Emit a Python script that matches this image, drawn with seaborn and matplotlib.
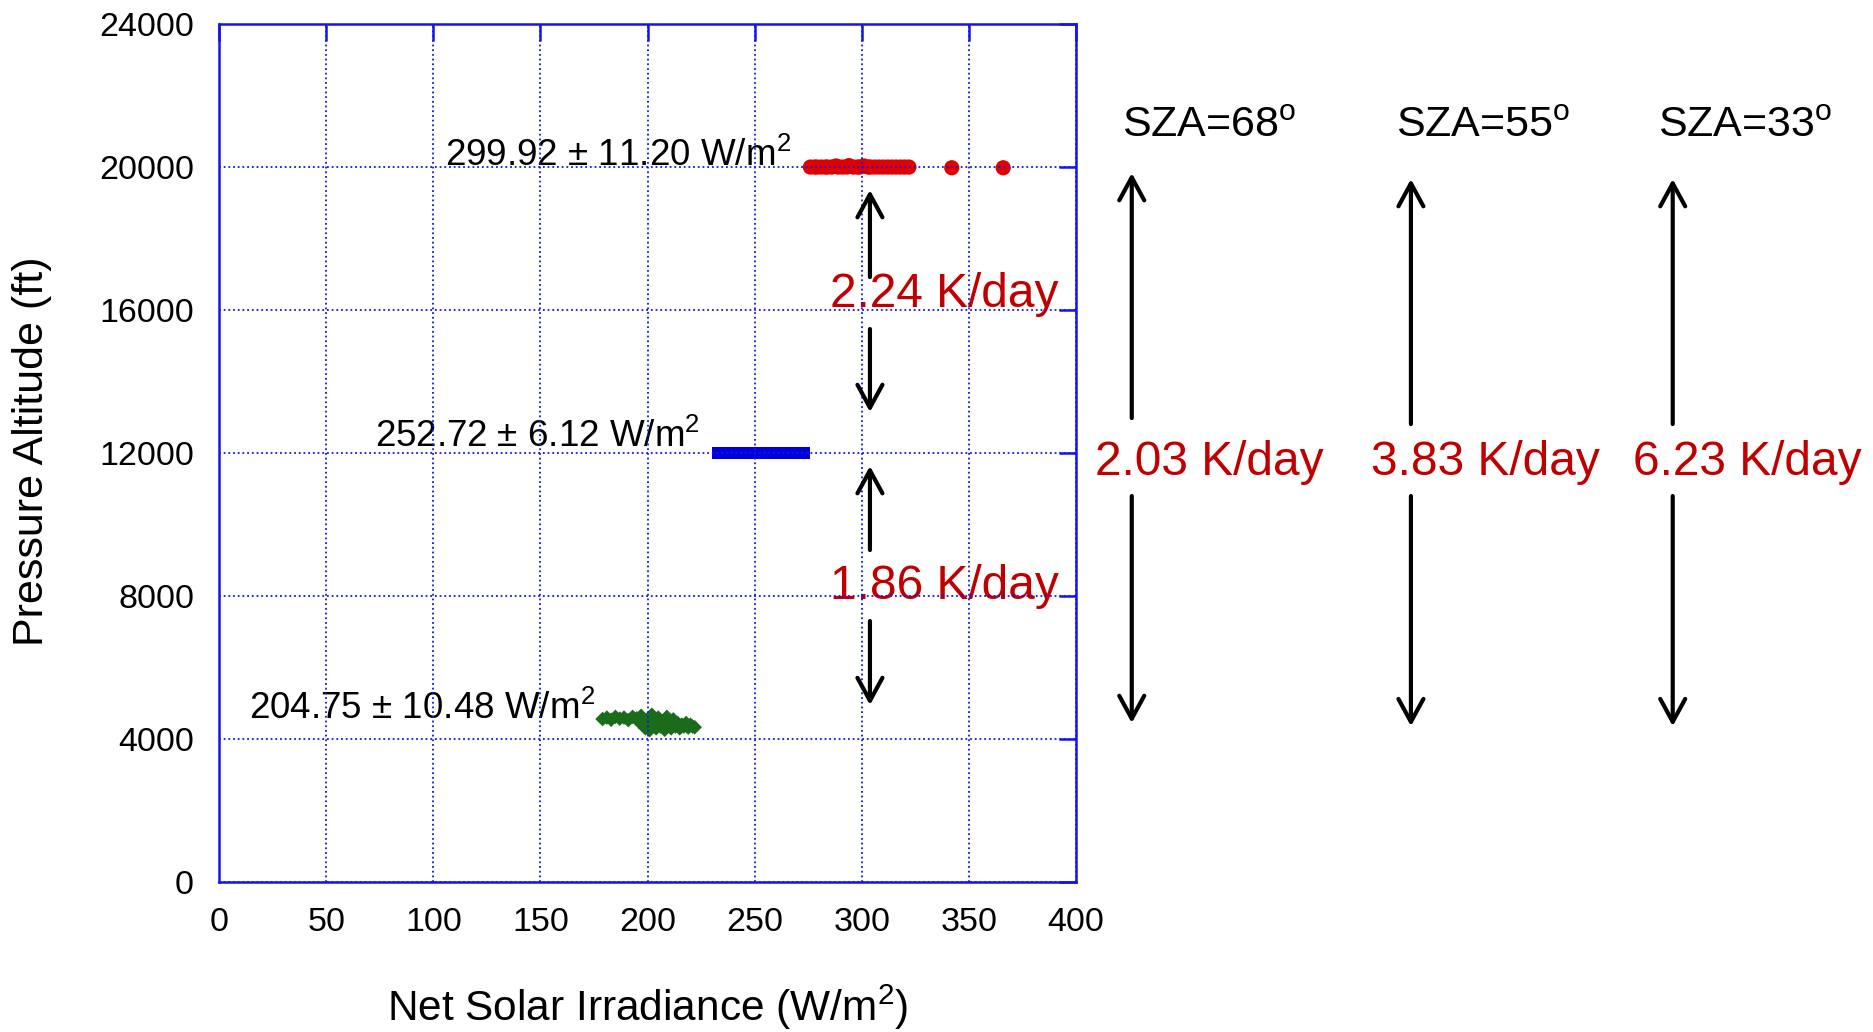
import matplotlib
matplotlib.use("Agg")
import matplotlib.pyplot as plt
import seaborn as sns
import pandas as pd

# Net solar irradiance samples at three flight levels
alt_20k_x = [276, 278, 279, 281, 283, 284, 286, 288, 289, 291, 293, 294, 296, 298,
             299, 301, 303, 304, 306, 308, 310, 312, 314, 316, 318, 320, 322, 342, 366]
alt_20k_y = [20000, 20000, 20000, 20000, 20000, 20000, 20000, 20030, 20000, 20000,
             20000, 20040, 20000, 20000, 20000, 20030, 20000, 20000, 20000, 20000,
             20000, 20000, 20000, 20000, 20000, 20000, 20000, 19980, 19980]

alt_12k_x = [233, 235, 237, 239, 241, 243, 245, 247, 249, 251, 253, 255, 257, 259,
             261, 263, 265, 267, 269, 271, 273]
alt_12k_y = [12000] * len(alt_12k_x)

alt_4k_x = [179, 181, 183, 185, 187, 189, 191, 193, 195, 196, 197, 198, 199, 200,
            201, 202, 203, 204, 205, 206, 207, 208, 209, 210, 211, 212, 213, 214,
            215, 216, 217, 218, 219, 220, 221, 222]
alt_4k_y = [4560, 4600, 4540, 4620, 4570, 4600, 4530, 4620, 4580, 4480, 4650, 4400,
            4300, 4550, 4250, 4680, 4450, 4300, 4600, 4350, 4500, 4260, 4620, 4400,
            4300, 4550, 4350, 4450, 4300, 4400, 4350, 4450, 4320, 4400, 4350, 4330]

mean_labels = ["299.92 \u00b1 11.20 W/m$^2$", "252.72 \u00b1 6.12 W/m$^2$",
               "204.75 \u00b1 10.48 W/m$^2$"]
layer_rates = ["2.24 K/day", "1.86 K/day"]
sza_labels = ["SZA=68$^{\\mathrm{o}}$", "SZA=55$^{\\mathrm{o}}$", "SZA=33$^{\\mathrm{o}}$"]
column_rates = ["2.03 K/day", "3.83 K/day", "6.23 K/day"]

x_ticks = [0, 50, 100, 150, 200, 250, 300, 350, 400]
y_ticks = [0, 4000, 8000, 12000, 16000, 20000, 24000]

sns.set_theme(style="white")
plt.rcParams["font.family"] = ["Liberation Sans", "DejaVu Sans"]
plt.rcParams["mathtext.fontset"] = "custom"
plt.rcParams["mathtext.rm"] = "Liberation Sans"
plt.rcParams["mathtext.it"] = "Liberation Sans:italic"
plt.rcParams["mathtext.bf"] = "Liberation Sans:bold"
plt.rcParams["text.color"] = "black"
plt.rcParams["axes.labelcolor"] = "black"

AXIS_BLUE = "#1414F0"
RED_TXT = "#C00000"

fig = plt.figure(figsize=(18.74, 10.32), dpi=100)
ax = fig.add_axes([0.1169, 0.1453, 0.4573, 0.8314])

df20 = pd.DataFrame({"x": alt_20k_x, "y": alt_20k_y})
df12 = pd.DataFrame({"x": alt_12k_x, "y": alt_12k_y})
df4 = pd.DataFrame({"x": alt_4k_x, "y": alt_4k_y})

sns.scatterplot(data=df20, x="x", y="y", ax=ax, color="#E00000", marker="o",
                s=120, edgecolor="none", zorder=1)
sns.scatterplot(data=df12, x="x", y="y", ax=ax, color="#0000DD", marker="s",
                s=85, edgecolor="none", zorder=1)
sns.scatterplot(data=df4, x="x", y="y", ax=ax, color="#1A6B1A", marker="D",
                s=55, edgecolor="none", zorder=1)

ax.set_xlim(0, 400)
ax.set_ylim(0, 24000)
ax.set_xticks(x_ticks)
ax.set_yticks(y_ticks)
ax.set_axisbelow(False)
ax.grid(True, color=AXIS_BLUE, linestyle=(0, (1, 1.6)), linewidth=1.3)
for sp in ax.spines.values():
    sp.set_color(AXIS_BLUE)
    sp.set_linewidth(1.8)
    sp.set_visible(True)
ax.tick_params(direction="in", length=12, width=1.8, color=AXIS_BLUE,
               top=True, right=True, labelsize=24.5, pad=18, labelcolor="black")

ax.set_xlabel("Net Solar Irradiance (W/m$^2$)", fontsize=30.5)
ax.set_ylabel("Pressure Altitude (ft)", fontsize=31)
ax.xaxis.set_label_coords(0.5, -0.1457)
ax.xaxis.label.set_va("center")
ax.yaxis.set_label_coords(-0.218, 0.502)
ax.yaxis.label.set_va("center")

# Mean irradiance labels beside each cluster
ax.text(267, 20030, mean_labels[0], ha="right", va="baseline", fontsize=26.5, zorder=1)
ax.text(224.5, 12170, mean_labels[1], ha="right", va="baseline", fontsize=26.5, zorder=1)
ax.text(175.5, 4560, mean_labels[2], ha="right", va="baseline", fontsize=26.5, zorder=1)

# Layer heating rates between flight levels
ax.text(338.4, 16080, layer_rates[0], ha="center", va="baseline", fontsize=34.5,
        color=RED_TXT, zorder=1)
ax.text(338.4, 7930, layer_rates[1], ha="center", va="baseline", fontsize=34.5,
        color=RED_TXT, zorder=1)

arrow_kw = dict(arrowstyle="->, head_length=0.55, head_width=0.3", color="black",
                lw=3.0, shrinkA=0, shrinkB=0, mutation_scale=30)


def double_arrow(x, top, gap_top, gap_bottom, bottom):
    ax.annotate("", xy=(x, top), xytext=(x, gap_top), arrowprops=arrow_kw,
                annotation_clip=False)
    ax.annotate("", xy=(x, bottom), xytext=(x, gap_bottom), arrowprops=arrow_kw,
                annotation_clip=False)


double_arrow(303.8, 19357, 16923, 15469, 13147)
double_arrow(303.8, 11636, 9287, 7301, 4951)

# Column heating rates for each solar zenith angle
sza_x = [421.5, 549.4, 671.6]
arrow_x = [426.0, 556.3, 678.5]
arrow_top = [19832, 19664, 19664]
arrow_gap_top = [12979, 12811, 12811]
arrow_bottom = [4448, 4360, 4360]
rate_x = [462.1, 591.1, 713.4]
for i in range(3):
    ax.text(sza_x[i], 20840, sza_labels[i], ha="left", va="baseline", fontsize=31,
            clip_on=False)
    double_arrow(arrow_x[i], arrow_top[i], arrow_gap_top[i], 10797, arrow_bottom[i])
    ax.text(rate_x[i], 11385, column_rates[i], ha="center", va="baseline",
            fontsize=34.5, color=RED_TXT, clip_on=False)

fig.savefig("out.png", dpi=100)
